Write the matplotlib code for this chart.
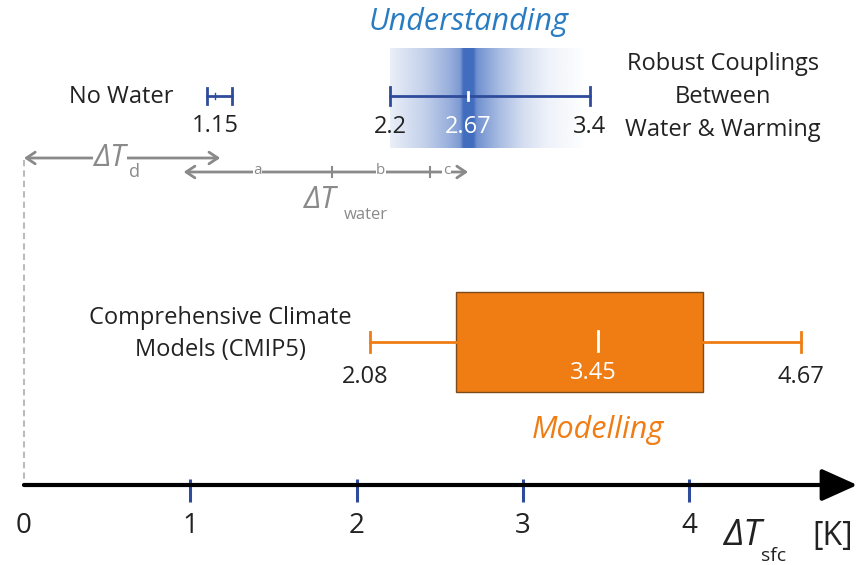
import numpy as np
import matplotlib
matplotlib.use("Agg")
import matplotlib.pyplot as plt

# --- Data (K) ---
x_ticks = [0, 1, 2, 3, 4]
no_water = [1.10, 1.15, 1.25]          # low, central, high
no_water_label = "1.15"
understanding = [2.2, 2.67, 3.4]       # low, central, high
understanding_labels = ["2.2", "2.67", "3.4"]
cmip5_whiskers = [2.08, 4.67]
cmip5_box = [2.60, 4.08]
cmip5_median = 3.45
cmip5_labels = ["2.08", "3.45", "4.67"]
dT_d_span = [0.0, 1.15]
dT_water_points = [0.96, 1.85, 2.44, 2.67]   # start, a|b, b|c, end
dT_water_letters = ["a", "b", "c"]

# --- Style ---
plt.rcParams["font.family"] = ["Open Sans", "DejaVu Sans"]
BLUE = "#2f4c9c"
LIGHT_BLUE = "#2a7cc2"
ORANGE = "#ef7d14"
GREY = "#8a8a8a"
TXT = "#222222"
FS = 17

fig = plt.figure(figsize=(8.59, 5.65), dpi=100)
ax = fig.add_axes([0, 0, 1, 1])
ax.set_xlim(-0.144, 5.02)
ax.set_ylim(565, 0)
ax.axis("off")

# axis arrow + ticks
y_axis = 485
ax.annotate("", xy=(5.01, y_axis), xytext=(0, y_axis),
            arrowprops=dict(arrowstyle="-|>,head_length=1.0,head_width=0.45",
                            lw=3, color="black", mutation_scale=22,
                            shrinkA=0, shrinkB=0))
for t in x_ticks:
    if t > 0:
        ax.plot([t, t], [479, 502], color=BLUE, lw=2.2, solid_capstyle="butt")
    ax.text(t, 526, str(t), ha="center", va="center", fontsize=20, color=TXT)
ax.text(4.2, 536, "ΔT", ha="left", va="center", fontsize=26, style="italic", color=TXT)
ax.text(4.43, 556, "sfc", ha="left", va="center", fontsize=14, color=TXT)
ax.text(4.74, 536, "[K]", ha="left", va="center", fontsize=23, color=TXT)

# dashed zero line
ax.plot([0, 0], [160, y_axis], color="#bbbbbb", lw=1.5, ls=(0, (3, 2)))

# gradient band behind "Understanding"
lo, mid, hi = understanding
gx = np.linspace(2.2, 3.38, 500)
kx = [2.2, 2.4, 2.55, 2.62, 2.64, 2.70, 2.72, 2.85, 3.0, 3.15, 3.38]
ka = [0.10, 0.28, 0.48, 0.62, 0.9, 0.9, 0.68, 0.42, 0.2, 0.08, 0.0]
alpha = np.interp(gx, kx, ka)
rgba = np.zeros((1, gx.size, 4))
rgba[..., :3] = matplotlib.colors.to_rgb("#2c5cb8")
rgba[..., 3] = alpha
ax.imshow(rgba, extent=[gx[0], gx[-1], 148, 48], aspect="auto", zorder=0,
          interpolation="bilinear")
ax.text(mid, 22, "Understanding", ha="center", va="center", fontsize=22,
        style="italic", color=LIGHT_BLUE)

# No Water errorbar
y_row1 = 96
ax.plot([no_water[0], no_water[2]], [y_row1, y_row1], color=BLUE, lw=2)
for v in (no_water[0], no_water[2]):
    ax.plot([v, v], [88, 104], color=BLUE, lw=2)
ax.plot([no_water[1], no_water[1]], [93, 99], color=BLUE, lw=1)
ax.text(1.15, 126, no_water_label, ha="center", va="center", fontsize=FS, color=TXT)
ax.text(0.9, 97, "No Water", ha="right", va="center", fontsize=FS, color=TXT)

# Understanding errorbar
ax.plot([lo, hi], [y_row1, y_row1], color=BLUE, lw=2)
for v in (lo, hi):
    ax.plot([v, v], [87, 105], color=BLUE, lw=2)
ax.plot([mid, mid], [92, 100], color="white", lw=2)
ax.text(lo, 127, understanding_labels[0], ha="center", va="center", fontsize=FS, color=TXT)
ax.text(mid, 127, understanding_labels[1], ha="center", va="center", fontsize=FS, color="white")
ax.text(hi, 127, understanding_labels[2], ha="center", va="center", fontsize=FS, color=TXT)
ax.text(4.2, 97, "Robust Couplings\nBetween\nWater & Warming", ha="center", va="center",
        fontsize=FS, color=TXT, linespacing=1.5)

# Delta T_d arrow
y_d = 158
ax.annotate("", xy=(dT_d_span[0], y_d), xytext=(dT_d_span[1] + 0.03, y_d),
            arrowprops=dict(arrowstyle="<->,head_length=0.45,head_width=0.3", lw=2,
                            color=GREY, mutation_scale=14, shrinkA=0, shrinkB=0))
ax.text(0.42, y_d, "ΔT", ha="left", va="center", fontsize=22, style="italic",
        color=GREY, bbox=dict(fc="white", ec="none", pad=0.5))
ax.text(0.63, y_d + 14, "d", ha="left", va="center", fontsize=13, color=GREY,
        bbox=dict(fc="white", ec="none", pad=0.2))

# Delta T_water arrow with sections a, b, c
y_w = 172
ax.annotate("", xy=(dT_water_points[0], y_w), xytext=(dT_water_points[-1], y_w),
            arrowprops=dict(arrowstyle="<->,head_length=0.45,head_width=0.3", lw=2,
                            color=GREY, mutation_scale=14, shrinkA=0, shrinkB=0))
for v in dT_water_points[1:-1]:
    ax.plot([v, v], [167, 177], color=GREY, lw=1.5)
for i, letter in enumerate(dT_water_letters):
    xc = (dT_water_points[i] + dT_water_points[i + 1]) / 2
    if i == 2:
        xc = dT_water_points[2] + 0.1
    ax.text(xc, y_w - 2, letter, ha="center", va="center", fontsize=11, color=GREY,
            bbox=dict(fc="white", ec="none", pad=0.3))
ax.text(1.68, 200, "ΔT", ha="left", va="center", fontsize=22, style="italic", color=GREY)
ax.text(1.92, 215, "water", ha="left", va="center", fontsize=12, color=GREY)

# CMIP5 box
y_box = 342
ax.plot([cmip5_whiskers[0], cmip5_box[0]], [y_box, y_box], color=ORANGE, lw=2)
ax.plot([cmip5_box[1], cmip5_whiskers[1]], [y_box, y_box], color=ORANGE, lw=2)
for v in cmip5_whiskers:
    ax.plot([v, v], [332, 352], color=ORANGE, lw=2)
ax.bar(cmip5_box[0], 100, width=cmip5_box[1] - cmip5_box[0], bottom=292, align="edge",
       color=ORANGE, edgecolor="#7a4a1a", lw=1)
ax.plot([cmip5_median, cmip5_median], [331, 351], color="white", lw=2)
ax.text(cmip5_whiskers[0] - 0.03, 377, cmip5_labels[0], ha="center", va="center", fontsize=FS, color=TXT)
ax.text(cmip5_median - 0.03, 373, cmip5_labels[1], ha="center", va="center", fontsize=FS, color="white")
ax.text(cmip5_whiskers[1], 377, cmip5_labels[2], ha="center", va="center", fontsize=FS, color=TXT)
ax.text(1.18, 334, "Comprehensive Climate\nModels (CMIP5)", ha="center", va="center",
        fontsize=FS, color=TXT, linespacing=1.45)
ax.text(cmip5_median, 430, "Modelling", ha="center", va="center", fontsize=22,
        style="italic", color=ORANGE)

fig.savefig("out.png", dpi=100)
